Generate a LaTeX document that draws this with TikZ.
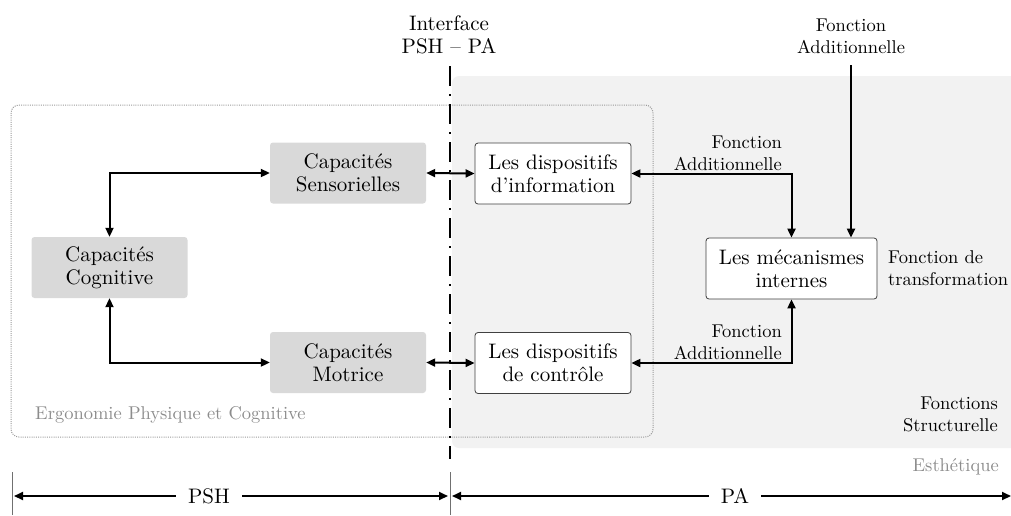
\documentclass[tikz,border=0pt]{standalone}
\usepackage{fontspec}
\setmainfont{lmroman10-regular.otf}
\usetikzlibrary{arrows.meta}
\definecolor{bgpa}{HTML}{F2F2F2}
\definecolor{capfill}{HTML}{D9D9D9}
\definecolor{dotgray}{HTML}{9A9A9A}
\definecolor{labgray}{HTML}{8C8C8C}
\definecolor{boxline}{HTML}{404040}
\definecolor{tickgray}{HTML}{707070}
\newcommand{\nodefont}{\fontsize{21}{23}\selectfont}
\newcommand{\labfont}{\fontsize{18.5}{22}\selectfont}
\begin{document}
\begin{tikzpicture}[x=1pt,y=-1pt,
  capbox/.style={fill=capfill, rounded corners=3pt, minimum width=156pt, minimum height=61pt, inner sep=0pt, align=center, font=\nodefont},
  devbox/.style={draw=boxline, line width=0.8pt, fill=white, rounded corners=3pt, minimum height=61pt, inner sep=0pt, align=center, font=\nodefont},
  tip/.tip={Triangle[length=9pt,width=8pt]},
  biarrow/.style={line width=2pt, tip-tip},
  onearrow/.style={line width=2pt, -tip},
  lab/.style={font=\labfont, inner sep=0pt},
  graylab/.style={font=\labfont, text=labgray, inner sep=0pt},
  spanarrow/.style={line width=1.8pt, tip-tip},
  spanlab/.style={font=\nodefont, fill=white, inner xsep=12pt, inner ysep=2pt},
  tick/.style={draw=tickgray, line width=0.9pt}]
\useasboundingbox (0,0) rectangle (1011,515);
% PA background
\fill[bgpa, rounded corners=7pt] (452,76) rectangle (1030,448);
% ergonomics dotted frame
\draw[dotgray, line width=1pt, dash pattern=on 1pt off 1.2pt, rounded corners=8pt] (11,105) rectangle (653,437);
% interface line
\coordinate (ifTop) at (450,66);
\coordinate (ifBot) at (450,459);
\draw[line width=2pt, dash pattern=on 20pt off 8pt on 2pt off 8pt] (ifTop) -- (ifBot);
\node[font=\nodefont, align=center, inner sep=0pt] (iface) at (449,35) {Interface\\PSH – PA};

% nodes
\node[capbox] (sens) at (348,173) {Capacités\\Sensorielles};
\node[capbox] (cog) at (109.5,267.5) {Capacités\\Cognitive};
\node[capbox] (mot) at (348,362.5) {Capacités\\Motrice};
\node[devbox, minimum width=156pt] (info) at (553,173.5) {Les dispositifs\\d’information};
\node[devbox, minimum width=156pt] (ctrl) at (553,363) {Les dispositifs\\de contrôle};
\node[devbox, minimum width=171pt] (meca) at (791.5,268.5) {Les mécanismes\\internes};

% labels
\node[lab, align=center] (faTop) at (851,36) {Fonction\\Additionnelle};
\node[lab, align=right, anchor=east] (faUp) at (782,153.5) {Fonction\\Additionnelle};
\node[lab, align=right, anchor=east] (faDown) at (782,342) {Fonction\\Additionnelle};
\node[lab, align=left, anchor=west] (ftr) at (888,268) {Fonction de\\transformation};
\node[lab, align=right, anchor=east] (fst) at (998,414) {Fonctions\\Structurelle};
\node[graylab, anchor=east] (esth) at (999,467) {Esthétique};
\node[graylab, anchor=west] (ergo) at (35,415) {Ergonomie Physique et Cognitive};

% connectors
\draw[biarrow] (cog.north) |- (sens.west);
\draw[biarrow] (cog.south) |- (mot.west);
\draw[biarrow] (sens.east) -- (info.west);
\draw[biarrow] (mot.east) -- (ctrl.west);
\draw[biarrow] (info.east) -| (meca.north);
\draw[biarrow] (ctrl.east) -| (meca.south);
\coordinate (faStart) at (851,65);
\draw[onearrow] (faStart) -- (faStart |- meca.north);

% bottom span arrows
\coordinate (tickL1) at (12,472);
\coordinate (tickL2) at (12,515);
\coordinate (tickM1) at (450,472);
\coordinate (tickM2) at (450,515);
\draw[tick] (tickL1) -- (tickL2);
\draw[tick] (tickM1) -- (tickM2);
\coordinate (pshL) at (14,496);
\coordinate (pshR) at (448,496);
\coordinate (paL) at (452,496);
\coordinate (paR) at (1011,496);
\draw[spanarrow] (pshL) -- (pshR);
\draw[spanarrow] (paL) -- (paR);
\node[spanlab] (psh) at (209,496) {PSH};
\node[spanlab] (pa) at (735,496) {PA};
\end{tikzpicture}
\end{document}
